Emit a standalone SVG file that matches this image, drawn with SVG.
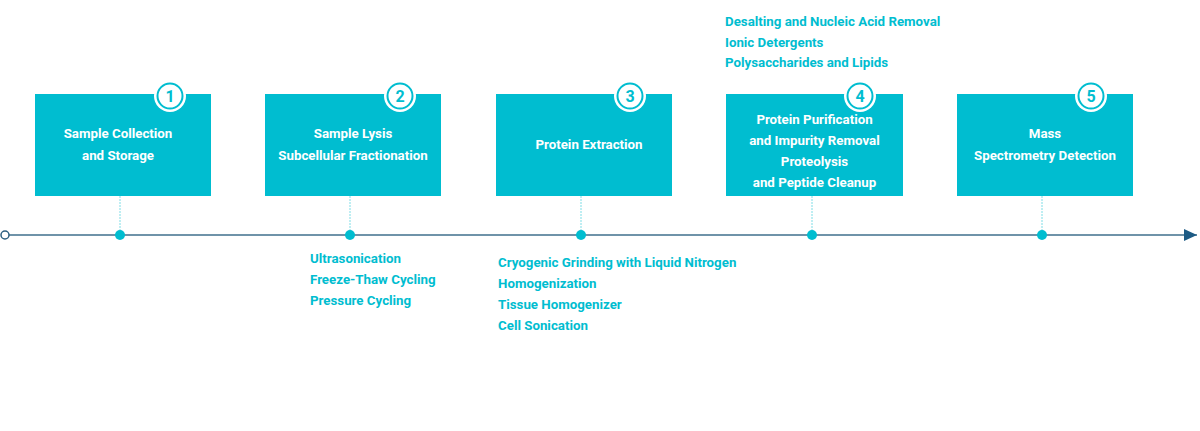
<svg xmlns="http://www.w3.org/2000/svg" width="1200" height="431" viewBox="0 0 1200 431">
<defs>
<style>
.box{fill:#00bdd0;}
.t{font-family:Roboto,"Liberation Sans",sans-serif;font-weight:700;font-size:13.3px;fill:#ffffff;text-anchor:middle;}
.l{font-family:Roboto,"Liberation Sans",sans-serif;font-weight:700;font-size:13.3px;fill:#00bdd0;}
.badge-o{fill:#ffffff;}
.badge-i{fill:#ffffff;stroke:#00bdd0;stroke-width:2;}
.bn{font-family:Roboto,"Liberation Sans",sans-serif;font-weight:700;font-size:16px;fill:#00bdd0;text-anchor:middle;}
.stem{stroke:#7fdde6;stroke-width:1;stroke-dasharray:2 1;}
.dot{fill:#00bdd0;}
</style>
<marker id="arr" markerWidth="14" markerHeight="12" refX="13" refY="6" orient="auto" markerUnits="userSpaceOnUse">
<path d="M0,0 L13,6 L0,12 Z" fill="#1d5b85"/>
</marker>
</defs>
<rect width="1200" height="431" fill="#ffffff"/>
<g id="connectors">
<line x1="9" y1="235" x2="1197" y2="235" stroke="#6f93a9" stroke-width="2" marker-end="url(#arr)"/>
<circle cx="5" cy="235" r="4" fill="#ffffff" stroke="#2d5f80" stroke-width="1.5"/>
<line class="stem" x1="120" y1="196" x2="120" y2="234"/>
<line class="stem" x1="350" y1="196" x2="350" y2="234"/>
<line class="stem" x1="581" y1="196" x2="581" y2="234"/>
<line class="stem" x1="812" y1="196" x2="812" y2="234"/>
<line class="stem" x1="1042" y1="196" x2="1042" y2="234"/>
<circle class="dot" cx="120" cy="235" r="5"/>
<circle class="dot" cx="350" cy="235" r="5"/>
<circle class="dot" cx="581" cy="235" r="5"/>
<circle class="dot" cx="812" cy="235" r="5"/>
<circle class="dot" cx="1042" cy="235" r="5"/>
</g>
<g id="node1">
<rect class="box" x="35" y="94" width="176" height="102"/>
<circle class="badge-o" cx="170" cy="96" r="16"/>
<circle class="badge-i" cx="170" cy="96" r="12.5"/>
<text class="bn" x="170" y="101.5">1</text>
<text class="t" x="118" y="138">Sample Collection</text>
<text class="t" x="118" y="160">and Storage</text>
</g>
<g id="node2">
<rect class="box" x="265" y="94" width="176" height="102"/>
<circle class="badge-o" cx="400" cy="96" r="16"/>
<circle class="badge-i" cx="400" cy="96" r="12.5"/>
<text class="bn" x="400" y="101.5">2</text>
<text class="t" x="353" y="138">Sample Lysis</text>
<text class="t" x="353" y="160">Subcellular Fractionation</text>
<text class="l" x="310" y="263">Ultrasonication</text>
<text class="l" x="310" y="284">Freeze-Thaw Cycling</text>
<text class="l" x="310" y="305">Pressure Cycling</text>
</g>
<g id="node3">
<rect class="box" x="496" y="94" width="176" height="102"/>
<circle class="badge-o" cx="630" cy="96" r="16"/>
<circle class="badge-i" cx="630" cy="96" r="12.5"/>
<text class="bn" x="630" y="101.5">3</text>
<text class="t" x="589" y="149">Protein Extraction</text>
<text class="l" x="498" y="267">Cryogenic Grinding with Liquid Nitrogen</text>
<text class="l" x="498" y="288">Homogenization</text>
<text class="l" x="498" y="309">Tissue Homogenizer</text>
<text class="l" x="498" y="330">Cell Sonication</text>
</g>
<g id="node4">
<rect class="box" x="726" y="94" width="177" height="102"/>
<circle class="badge-o" cx="860" cy="96" r="16"/>
<circle class="badge-i" cx="860" cy="96" r="12.5"/>
<text class="bn" x="860" y="101.5">4</text>
<text class="t" x="814.5" y="124">Protein Purification</text>
<text class="t" x="814.5" y="145">and Impurity Removal</text>
<text class="t" x="814.5" y="166">Proteolysis</text>
<text class="t" x="814.5" y="187">and Peptide Cleanup</text>
<text class="l" x="725" y="26">Desalting and Nucleic Acid Removal</text>
<text class="l" x="725" y="47">Ionic Detergents</text>
<text class="l" x="725" y="67">Polysaccharides and Lipids</text>
</g>
<g id="node5">
<rect class="box" x="957" y="94" width="176" height="102"/>
<circle class="badge-o" cx="1091" cy="96" r="16"/>
<circle class="badge-i" cx="1091" cy="96" r="12.5"/>
<text class="bn" x="1091" y="101.5">5</text>
<text class="t" x="1045" y="138">Mass</text>
<text class="t" x="1045" y="160">Spectrometry Detection</text>
</g>
</svg>
